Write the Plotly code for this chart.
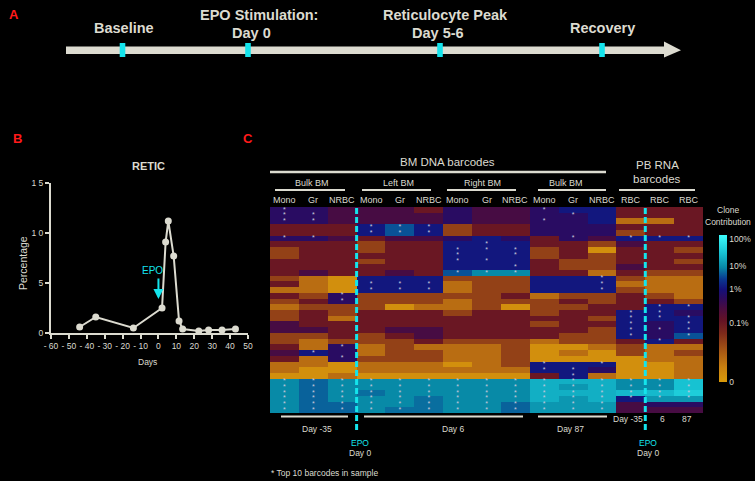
import numpy as np
import plotly.graph_objects as go

W, H = 755, 481
LIGHT = "#dcdbd0"
CYAN = "#14e4ec"
FONT = "Liberation Sans, Arial, sans-serif"


def px(x):
    return x / W


def py(y):
    return 1 - y / H


# ---------------- Panel A: timeline ----------------
timeline_labels = ["Baseline", "EPO Stimulation:", "Day 0", "Reticulocyte Peak", "Day 5-6", "Recovery"]

# ---------------- Panel B: reticulocytes ----------------
retic_days = [-44, -35, -14, 2, 4, 5.5, 8.5, 11.5, 13.5, 22.5, 28, 35.5, 43]
retic_pct = [0.6, 1.6, 0.5, 2.5, 9.1, 11.2, 7.7, 1.2, 0.4, 0.2, 0.3, 0.3, 0.4]
retic_xticks = [-60, -50, -40, -30, -20, -10, 0, 10, 20, 30, 40, 50]
retic_xticktext = ["- 60", "- 50", "- 40", "- 30", "- 20", "- 10", "0", "10", "20", "30", "40", "50"]
retic_yticks = [0, 5, 10, 15]
retic_yticktext = ["0", "5", "1 0", "1 5"]

# ---------------- Panel C: barcode heatmap ----------------
group_labels = ["Bulk BM", "Left BM", "Right BM", "Bulk BM"]
column_labels = ["Mono", "Gr", "NRBC", "Mono", "Gr", "NRBC", "Mono", "Gr", "NRBC",
                 "Mono", "Gr", "NRBC", "RBC", "RBC", "RBC"]
time_labels = ["Day -35", "Day 6", "Day 87"]
rbc_time_labels = ["Day -35", "6", "87"]
colorbar_pct = [0, 0.1, 1, 10, 100]
colorbar_text = ["0", "0.1%", "1%", "10%", "100%"]
colorbar_pos = [0, 0.40, 0.63, 0.79, 0.97]

# clone contribution (%) : 36 barcodes x 15 samples
clone_pct = [
    [.6, .6, .3, .3, .3, .1, .6, .3, .3, .6, 1.2, 1.2, .1, .1, .1],
    [.6, .6, .3, .3, .3, .3, .6, .3, .3, .6, .6, 1.2, .1, .1, .1],
    [.6, .6, .3, .3, .3, .3, .6, .3, .3, .6, .6, 1.2, .015, .015, .1],
    [.1, .1, .1, 1.2, 4, 1.2, .04, .1, .1, .6, .6, .6, .1, .1, .1],
    [.1, .1, .1, 1.2, 4, 1.2, .04, .1, .1, .6, .6, .6, .04, .1, .1],
    [.6, .6, .3, .1, .3, .3, .6, 1.2, .6, .1, .6, .3, 1.2, 1.2, 1.2],
    [.1, .1, .1, .04, .1, .1, 1.2, 1.2, 1.2, .1, .1, .04, .3, .1, .1],
    [.04, .1, .1, .04, .1, .1, 1.2, 1.2, 1.2, .04, .1, .003, .1, .1, .04],
    [.04, .1, .1, .1, .1, .1, 1.2, 1.2, 1.2, .04, .1, .04, .1, .1, .1],
    [.1, .1, .1, .04, .1, .1, 1.2, 1.2, 1.2, .1, .04, .04, .1, .1, .04],
    [.1, .1, .1, .1, .1, .1, 1.2, 1.2, 1.2, .1, .04, .04, .3, .1, .1],
    [.1, .3, .1, .1, .3, .1, 4, 9, 9, .1, .1, .015, .1, .04, .04],
    [.04, .015, .003, 1.2, 1.2, 1.2, .04, .04, .04, 1.2, 1.2, 1.2, .04, .015, .015],
    [.1, .015, .003, 1.2, 1.2, 1.2, .015, .04, .04, 1.2, 1.2, 1.2, .015, .015, .015],
    [.015, .015, .003, 1.2, 1.2, 1.2, .015, .04, .04, 1.2, 1.2, 1.2, .04, .015, .015],
    [.1, .04, .6, .04, .04, .04, .04, .04, .1, .015, .04, .04, .1, .04, .015],
    [.04, .1, .6, .04, .04, .04, .015, .04, .04, .04, .1, .04, .1, .1, .04],
    [.015, .04, .04, .04, .003, .015, .015, .04, .003, .04, .04, .1, .1, 1.2, 1.2],
    [.04, .1, .04, .1, .1, .1, .04, .1, .1, .04, .1, .1, 1.2, 1.2, .6],
    [.04, .1, .015, .1, .1, .1, .1, .1, .1, .1, .1, .04, 1.2, 1.2, 1.2],
    [.3, .1, .1, .1, .1, .1, .1, .1, .1, .04, .1, .1, 1.2, .6, 1.2],
    [.3, .3, .1, .1, .3, .3, .1, .1, .1, .1, .1, .04, 1.2, .6, 1.2],
    [.04, .04, .1, .04, .1, .3, .1, .1, .1, .1, .04, .04, 1.2, .6, 4],
    [.04, .015, .04, .04, .04, .1, .04, .04, .04, .015, .04, .04, .1, 1.2, .1],
    [.1, .015, .6, .015, .04, .015, .015, .015, .04, .003, .003, .015, .04, .015, .015],
    [.3, 1.2, .6, .015, .04, .04, .015, .015, .04, .003, .015, .003, .04, .015, .04],
    [.1, .015, .6, .04, .04, .04, .015, .015, .04, .003, .003, .003, .003, .015, .015],
    [.015, .015, .003, .015, .015, .015, .003, .015, .04, 1.2, 1.2, 1.2, .003, .003, .015],
    [.015, .003, .003, .015, .015, .015, .015, .015, .015, 1.2, 1.2, .6, .003, .003, .015],
    [.003, .003, .015, .003, .003, .003, .003, .003, .003, .1, 1.2, .015, .003, .003, .015],
    [9, 5, 9, 9, 9, 9, 9, 9, 9, 20, 20, 20, 9, 9, 30],
    [9, 5, 9, 9, 9, 9, 9, 9, 9, 20, 12, 20, 9, 9, 30],
    [9, 5, 9, 6, 9, 9, 9, 9, 9, 20, 20, 20, 25, 25, 40],
    [9, 5, 9, 9, 9, 6, 9, 9, 9, 20, 12, 20, 1.2, 12, 12],
    [9, 5, 5, 9, 9, 6, 9, 9, 5, 12, 12, 12, .3, .6, .6],
    [9, 5, 5, 9, 6, 6, 9, 9, 5, 12, 12, 12, .3, .3, .3],
]

# rows marked "*" (top 10 barcodes) in each sample column
top10_rows = [
    [0, 1, 2, 5, 30, 31, 32, 33, 34, 35],
    [1, 2, 5, 25, 30, 31, 32, 33, 34, 35],
    [15, 16, 24, 26, 30, 31, 32, 33, 34, 35],
    [3, 4, 13, 14, 30, 31, 32, 33, 34, 35],
    [3, 4, 13, 14, 30, 31, 32, 33, 34, 35],
    [3, 4, 13, 14, 30, 31, 32, 33, 34, 35],
    [7, 8, 9, 11, 30, 31, 32, 33, 34, 35],
    [6, 7, 9, 11, 30, 31, 32, 33, 34, 35],
    [7, 8, 10, 11, 30, 31, 32, 33, 34, 35],
    [0, 2, 27, 28, 30, 31, 32, 33, 34, 35],
    [1, 5, 28, 29, 30, 31, 32, 33, 34, 35],
    [12, 13, 14, 27, 30, 31, 32, 33, 34, 35],
    [5, 18, 19, 20, 21, 22, 30, 31, 32, 33],
    [5, 17, 18, 19, 21, 23, 30, 31, 32, 33],
    [5, 17, 19, 20, 21, 22, 30, 31, 32, 33],
]

n_rows = len(clone_pct)
n_cols = len(column_labels)

pct = np.array(clone_pct, dtype=float)
z_pos = np.interp(np.log10(pct + 0.01), np.log10(np.array(colorbar_pct) + 0.01), colorbar_pos)

colorscale = [
    [0.00, "#d99a0a"],
    [0.10, "#c98010"],
    [0.22, "#a45414"],
    [0.33, "#7e2a1a"],
    [0.42, "#641225"],
    [0.50, "#4a0c40"],
    [0.57, "#2c0b5e"],
    [0.63, "#14107a"],
    [0.70, "#0a3890"],
    [0.78, "#0888a6"],
    [0.88, "#18c4d4"],
    [1.00, "#3cfcfc"],
]

fig = go.Figure()

# Panel B line
fig.add_trace(go.Scatter(
    x=retic_days, y=retic_pct, mode="lines+markers",
    line=dict(color=LIGHT, width=2),
    marker=dict(color=LIGHT, size=7),
    xaxis="x", yaxis="y", cliponaxis=False, showlegend=False, hoverinfo="skip"))

# Panel C heatmap
fig.add_trace(go.Heatmap(
    z=z_pos, x=list(range(n_cols)), y=list(range(n_rows)),
    colorscale=colorscale, zmin=0, zmax=1,
    xaxis="x2", yaxis="y2",
    colorbar=dict(
        x=px(719), xanchor="left", xpad=0, ypad=0,
        y=py(381.7), yanchor="bottom", len=147 / H, lenmode="fraction",
        thickness=8, outlinewidth=0,
        tickvals=colorbar_pos, ticktext=colorbar_text, ticks="",
        tickfont=dict(size=8.5, color=LIGHT, family=FONT)),
    hoverinfo="skip"))

star_x, star_y = [], []
for c, rows in enumerate(top10_rows):
    for r in rows:
        star_x.append(c)
        star_y.append(r)
fig.add_trace(go.Scatter(
    x=star_x, y=star_y, mode="text", text=["*"] * len(star_x),
    textposition="middle center",
    textfont=dict(size=7, color="#c8c8dc", family=FONT),
    xaxis="x2", yaxis="y2", showlegend=False, hoverinfo="skip"))

shapes = []
annotations = []


def txt(x, y, s, size, color=LIGHT, xanchor="center", angle=0, yanchor="middle"):
    annotations.append(dict(
        x=px(x), y=py(y), xref="paper", yref="paper", text=s, showarrow=False,
        font=dict(size=size, color=color, family=FONT), borderpad=0,
        xanchor=xanchor, yanchor=yanchor, textangle=angle))


def hline(x0, x1, y, width=2, color=LIGHT):
    shapes.append(dict(type="line", xref="paper", yref="paper",
                       x0=px(x0), x1=px(x1), y0=py(y), y1=py(y),
                       line=dict(color=color, width=width)))


# Panel labels
txt(14, 14, "<b>A</b>", 13, "#ff1a1a")
txt(17, 138, "<b>B</b>", 13, "#ff1a1a")
txt(248, 138, "<b>C</b>", 13, "#ff1a1a")

# Panel A timeline arrow
shapes.append(dict(type="rect", xref="paper", yref="paper",
                   x0=px(66), x1=px(666), y0=py(54), y1=py(46.5),
                   fillcolor=LIGHT, line=dict(width=0)))
shapes.append(dict(type="path", xref="paper", yref="paper",
                   path=f"M {px(664)} {py(41.5)} L {px(681)} {py(50.2)} L {px(664)} {py(57.5)} Z",
                   fillcolor=LIGHT, line=dict(width=0)))
for cx in [122.5, 248, 440, 602]:
    shapes.append(dict(type="rect", xref="paper", yref="paper",
                       x0=px(cx - 2.8), x1=px(cx + 2.8), y0=py(57), y1=py(43),
                       fillcolor=CYAN, line=dict(width=0)))
TA = 14.5
txt(124.5, 28, "<b>" + timeline_labels[0] + "</b>", TA)
txt(258.5, 24.5, "<b>" + timeline_labels[1] + "</b>", TA, yanchor="bottom")
txt(251.5, 24.5, "<b>" + timeline_labels[2] + "</b>", TA, yanchor="top")
txt(446, 24.5, "<b>" + timeline_labels[3] + "</b>", TA, yanchor="bottom")
txt(438, 24.5, "<b>" + timeline_labels[4] + "</b>", TA, yanchor="top")
txt(602.5, 28, "<b>" + timeline_labels[5] + "</b>", TA)

# Panel B texts
txt(148, 166, "<b>RETIC</b>", 11)
txt(23, 263, "Percentage", 10.5, angle=-90)
txt(147, 362, "Days", 8.5)
txt(152, 270, "EPO", 10, CYAN)
annotations.append(dict(x=0, y=3.4, xref="x", yref="y", ax=0, ay=-22,
                        axref="pixel", ayref="pixel", text="", showarrow=True,
                        arrowcolor=CYAN, arrowwidth=2, arrowhead=2, arrowsize=1))

# Panel C header
txt(447, 162, "BM DNA barcodes", 11.5)
hline(270, 606, 172, 2.5)
txt(657, 165, "PB RNA", 11.5)
txt(657, 179, "barcodes", 11.5)
group_centers = [312, 398, 483, 566]
group_lines = [(275, 345), (362, 431), (447, 516), (538, 606)]
for lab, cx, (a, b) in zip(group_labels, group_centers, group_lines):
    txt(cx, 183, lab, 9)
    hline(a, b, 190, 2)
hline(619, 695, 190, 2)

col_w = (703 - 270) / n_cols
for c, lab in enumerate(column_labels):
    txt(270 + col_w * (c + 0.5), 200, lab, 9)

txt(728, 210, "Clone", 8.5)
txt(728, 222, "Contribution", 8.5)

# Panel C footer
hline(281, 348, 416.5, 2)
hline(364, 523, 416.5, 2)
hline(538, 607, 416.5, 2)
txt(317, 429, time_labels[0], 8.5)
txt(453, 429, time_labels[1], 8.5)
txt(570, 429, time_labels[2], 8.5)
txt(628, 419, rbc_time_labels[0], 8.5)
txt(662, 419, rbc_time_labels[1], 8.5)
txt(687, 419, rbc_time_labels[2], 8.5)
for ex in [360, 648]:
    txt(ex, 443, "EPO", 8.5, CYAN)
    txt(ex, 452.5, "Day 0", 8.5)
txt(270, 473, "* Top 10 barcodes in sample", 8.5, xanchor="left")

# EPO dashed lines
for dx in [356.6, 645.3]:
    shapes.append(dict(type="line", xref="paper", yref="paper",
                       x0=px(dx), x1=px(dx), y0=py(208), y1=py(432),
                       line=dict(color=CYAN, width=3, dash="6px,3px")))

fig.update_layout(
    width=W, height=H, autosize=False,
    margin=dict(l=0, r=0, t=0, b=0, pad=0),
    paper_bgcolor="black", plot_bgcolor="black",
    showlegend=False,
    font=dict(family=FONT, color=LIGHT),
    xaxis=dict(domain=[px(51), px(248)], range=[-60, 50], anchor="y",
               tickvals=retic_xticks, ticktext=retic_xticktext,
               ticks="outside", ticklen=4, tickwidth=1.5, tickcolor=LIGHT,
               showline=True, linecolor=LIGHT, linewidth=2,
               showgrid=False, zeroline=False, automargin=False,
               tickfont=dict(size=8.5, color=LIGHT, family=FONT)),
    yaxis=dict(domain=[py(333), py(183)], range=[0, 15], anchor="x",
               tickvals=retic_yticks, ticktext=retic_yticktext,
               ticks="outside", ticklen=4, tickwidth=1.5, tickcolor=LIGHT,
               showline=True, linecolor=LIGHT, linewidth=2,
               showgrid=False, zeroline=False, automargin=False,
               tickfont=dict(size=8.5, color=LIGHT, family=FONT)),
    xaxis2=dict(domain=[px(270), px(703)], range=[-0.5, n_cols - 0.5], anchor="y2",
                showticklabels=False, showgrid=False, zeroline=False, ticks=""),
    yaxis2=dict(domain=[py(413), py(207)], range=[n_rows - 0.5, -0.5], anchor="x2",
                showticklabels=False, showgrid=False, zeroline=False, ticks=""),
    shapes=shapes,
    annotations=annotations,
)

fig.write_html(
    "out.html",
    config={"displayModeBar": False},
    post_script="document.body.style.margin='0';document.body.style.overflow='hidden';",
)
